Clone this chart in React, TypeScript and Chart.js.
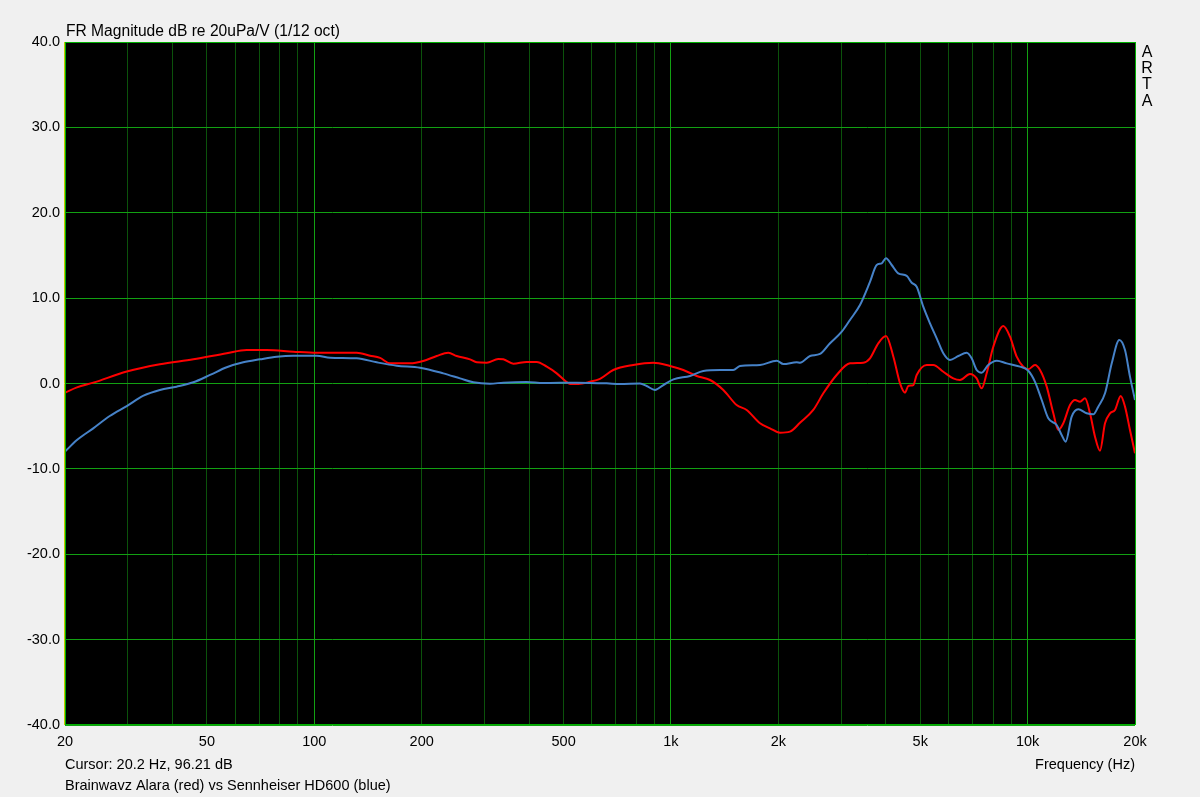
import React, { useEffect, useRef } from "react";
import { Chart, registerables } from "chart.js";

Chart.register(...registerables);

// Red: Brainwavz Alara
const redFreq = [20, 21.6, 24.0, 29.8, 36.9, 45.8, 56.8, 64.6, 73.6, 87.3, 101.6, 113, 131.5, 143.3, 152.9, 163, 185.5, 202, 220.4, 237.5, 250.8, 273.3, 285.4, 304.4, 328, 338.8, 361.5, 394, 420.4, 448.5, 478.3, 504.6, 521, 549.8, 593, 632.5, 689, 784, 892, 994, 1083, 1181, 1287, 1402, 1528, 1630, 1777, 1895, 2022, 2156, 2300, 2506, 2674, 2914, 3176, 3462, 3614, 3813, 4008, 4203, 4388, 4532, 4628, 4780, 4886, 5212, 5438, 5802, 6188, 6462, 6892, 7196, 7432, 7676, 8012, 8546, 8924, 9318, 9724, 10044, 10488, 10832, 11310, 11804, 12190, 12590, 13146, 13578, 14026, 14486, 14958, 15448, 15954, 16480, 17022, 17578, 18240, 18750, 19362, 20000];
const redDb = [-1.08, -0.45, 0.1, 1.4, 2.25, 2.83, 3.54, 3.92, 3.92, 3.73, 3.6, 3.6, 3.6, 3.26, 3.0, 2.36, 2.36, 2.63, 3.22, 3.6, 3.22, 2.83, 2.48, 2.44, 2.87, 2.83, 2.32, 2.52, 2.52, 1.97, 1.19, 0.33, -0.06, -0.06, 0.2, 0.55, 1.58, 2.17, 2.44, 2.05, 1.58, 0.88, 0.41, -0.76, -2.52, -3.1, -4.66, -5.25, -5.76, -5.64, -4.59, -3.1, -1.15, 1.0, 2.36, 2.44, 2.95, 4.71, 5.56, 3.14, 0.02, -1.07, -0.29, -0.18, 1.0, 2.17, 2.17, 1.38, 0.6, 0.41, 1.11, 0.6, -0.57, 1.19, 4.31, 6.73, 5.48, 3.14, 1.97, 1.66, 2.17, 1.58, -0.37, -3.49, -5.45, -4.66, -2.52, -1.93, -2.13, -1.74, -3.49, -6.23, -7.87, -4.66, -3.49, -3.1, -1.46, -2.71, -5.45, -8.18];

// Blue: Sennheiser HD600
const blueFreq = [20, 21.6, 24.0, 26.7, 29.8, 33.2, 36.9, 41.1, 45.8, 51, 56.8, 63.2, 70.4, 78.5, 87.3, 101.6, 110.7, 131.5, 149.6, 170.2, 197.9, 230, 256.2, 279.2, 310.9, 338.8, 394, 438.6, 544.2, 660.6, 719.4, 818.8, 855, 902, 952, 1016, 1131, 1232, 1372, 1495, 1561, 1777, 1979, 2066, 2252, 2300, 2454, 2618, 2792, 3012, 3176, 3388, 3614, 3774, 3898, 4008, 4158, 4338, 4582, 4732, 4886, 5098, 5324, 5560, 5802, 6058, 6392, 6748, 6968, 7196, 7432, 7756, 8190, 8738, 9520, 10044, 10488, 10952, 11428, 12060, 12456, 12782, 13290, 13868, 14634, 15276, 15778, 16480, 17212, 18072, 18750, 19362, 20000];
const blueDb = [-7.98, -6.62, -5.25, -3.81, -2.64, -1.43, -0.76, -0.37, 0.14, 1.0, 1.9, 2.48, 2.83, 3.14, 3.26, 3.26, 3.02, 2.95, 2.48, 2.09, 1.85, 1.19, 0.6, 0.14, -0.02, 0.1, 0.18, 0.06, 0.1, 0.02, -0.06, 0.0, -0.29, -0.76, -0.18, 0.49, 0.88, 1.46, 1.58, 1.58, 2.05, 2.17, 2.67, 2.28, 2.48, 2.44, 3.22, 3.46, 4.71, 6.07, 7.44, 9.19, 11.9, 13.88, 14.08, 14.67, 13.88, 12.9, 12.6, 11.8, 11.34, 9.0, 7.05, 5.29, 3.54, 2.75, 3.22, 3.6, 2.95, 1.58, 1.27, 2.17, 2.67, 2.36, 1.97, 1.5, 0.2, -1.93, -4.08, -4.86, -6.03, -6.81, -3.88, -3.02, -3.49, -3.61, -2.71, -1.15, 2.36, 5.1, 3.92, 0.8, -1.93];

const gridFreqs = [20, 30, 40, 50, 60, 70, 80, 90, 100, 200, 300, 400, 500, 600, 700, 800, 900, 1000, 2000, 3000, 4000, 5000, 6000, 7000, 8000, 9000, 10000, 20000];
const labelFreqs = [20, 50, 100, 200, 500, 1000, 2000, 5000, 10000, 20000];
const majorFreqs = [100, 1000, 10000];

const titleText = "FR Magnitude dB re 20uPa/V (1/12 oct)";
const cursorText = "Cursor: 20.2 Hz, 96.21 dB";
const axisText = "Frequency (Hz)";
const captionText = "Brainwavz Alara (red) vs Sennheiser HD600 (blue)";
const brandLetters = ["A", "R", "T", "A"];

const FONT = '"Liberation Sans", Arial, sans-serif';

const framePlugin = {
  id: "frame",
  beforeDraw(chart: any) {
    const { ctx, chartArea: a } = chart;
    ctx.save();
    ctx.fillStyle = "#f0f0f0";
    ctx.fillRect(0, 0, chart.width, chart.height);
    ctx.fillStyle = "#000000";
    ctx.fillRect(a.left, a.top, a.right - a.left, a.bottom - a.top);
    ctx.restore();
  },
  afterDraw(chart: any) {
    const { ctx, chartArea: a } = chart;
    ctx.save();
    ctx.lineWidth = 1;
    ctx.strokeStyle = "#00b000";
    ctx.strokeRect(a.left + 0.5, a.top + 0.5, a.right - a.left, a.bottom - a.top - 1);
    ctx.strokeStyle = "#c8c800";
    ctx.beginPath();
    ctx.moveTo(a.left - 0.5, a.top);
    ctx.lineTo(a.left - 0.5, a.bottom);
    ctx.stroke();

    ctx.fillStyle = "#000000";
    ctx.textBaseline = "alphabetic";
    ctx.textAlign = "left";
    ctx.font = `15.6px ${FONT}`;
    ctx.fillText(titleText, a.left + 1, a.top - 6);
    ctx.font = `14.5px ${FONT}`;
    ctx.fillText(cursorText, a.left, a.bottom + 44);
    ctx.fillText(captionText, a.left, a.bottom + 65);
    ctx.textAlign = "right";
    ctx.fillText(axisText, a.right, a.bottom + 44);
    ctx.textAlign = "center";
    ctx.font = `16px ${FONT}`;
    brandLetters.forEach((ch, i) => {
      ctx.fillText(ch, a.right + 12, a.top + 15 + i * 16.2);
    });
    ctx.restore();
  },
};

export default function App() {
  const ref = useRef<HTMLCanvasElement | null>(null);
  useEffect(() => {
    const canvas = ref.current;
    if (!canvas) return;
    const chart = new Chart(canvas, {
      type: "line",
      data: {
        datasets: [
          {
            label: "Sennheiser HD600",
            data: blueFreq.map((f, i) => ({ x: f, y: blueDb[i] })),
            borderColor: "#4682c8",
            borderWidth: 2,
            pointRadius: 0,
            cubicInterpolationMode: "monotone",
          },
          {
            label: "Brainwavz Alara",
            data: redFreq.map((f, i) => ({ x: f, y: redDb[i] })),
            borderColor: "#ff0000",
            borderWidth: 2,
            pointRadius: 0,
            cubicInterpolationMode: "monotone",
          },
        ],
      },
      options: {
        animation: false,
        responsive: false,
        maintainAspectRatio: false,
        layout: { padding: { top: 42, right: 65, bottom: 0, left: 0 } },
        plugins: { legend: { display: false }, tooltip: { enabled: false } },
        scales: {
          x: {
            type: "logarithmic",
            min: 20,
            max: 20000,
            afterBuildTicks: (s: any) => {
              s.ticks = gridFreqs.map((v) => ({ value: v }));
            },
            afterFit: (s: any) => {
              s.height = 72;
            },
            ticks: {
              autoSkip: false,
              maxRotation: 0,
              padding: 8,
              color: "#000000",
              font: { family: FONT, size: 14.5 },
              callback: (v: any) => {
                const n = Number(v);
                if (!labelFreqs.includes(n)) return "";
                return n >= 1000 ? `${n / 1000}k` : `${n}`;
              },
            },
            grid: {
              drawTicks: false,
              lineWidth: 1,
              color: (c: any) =>
                majorFreqs.includes(c.tick?.value) ? "#12a012" : "#0b520b",
            },
            border: { display: false },
          },
          y: {
            min: -40,
            max: 40,
            afterBuildTicks: (s: any) => {
              const t = [];
              for (let v = -40; v <= 40; v += 10) t.push({ value: v });
              s.ticks = t;
            },
            afterFit: (s: any) => {
              s.width = 65;
            },
            ticks: {
              padding: 5,
              color: "#000000",
              font: { family: FONT, size: 14.5 },
              callback: (v: any) => Number(v).toFixed(1),
            },
            grid: { drawTicks: false, lineWidth: 1, color: "#12a012" },
            border: { display: false },
          },
        },
      },
      plugins: [framePlugin],
    });
    return () => chart.destroy();
  }, []);
  return (
    <div style={{ position: "absolute", left: 0, top: 0, width: 1200, height: 797, background: "#f0f0f0" }}>
      <canvas ref={ref} width={1200} height={797} style={{ display: "block" }} />
    </div>
  );
}
